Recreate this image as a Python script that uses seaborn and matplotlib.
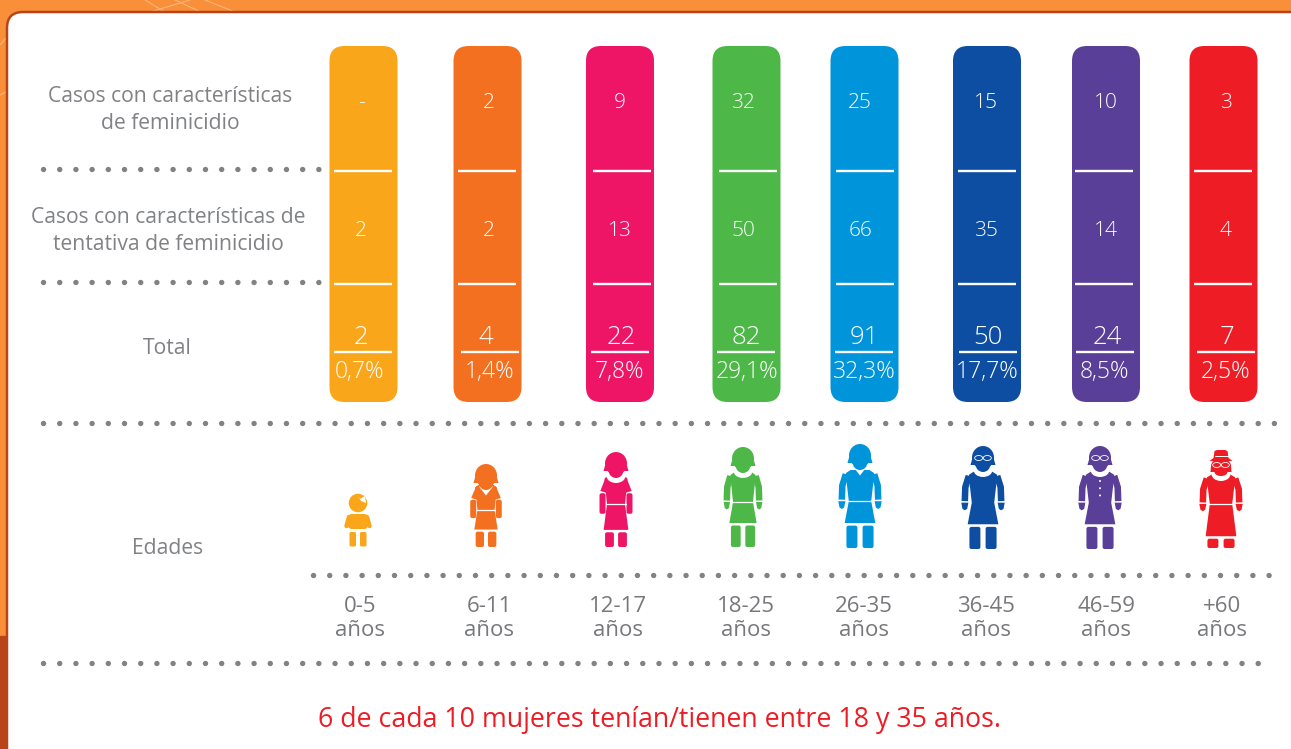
import numpy as np
import matplotlib
matplotlib.use("Agg")
import matplotlib.pyplot as plt
import seaborn as sns
from matplotlib.patches import FancyBboxPatch, Ellipse, Polygon, Rectangle

edades = ["0-5", "6-11", "12-17", "18-25", "26-35", "36-45", "46-59", "+60"]
feminicidio = ["-", 2, 9, 32, 25, 15, 10, 3]
tentativa = [2, 2, 13, 50, 66, 35, 14, 4]
totales = [2, 4, 22, 82, 91, 50, 24, 7]
porcentajes = ["0,7%", "1,4%", "7,8%", "29,1%", "32,3%", "17,7%", "8,5%", "2,5%"]
colores = ["#FAA61A", "#F47021", "#EE1566", "#4DB848", "#0095DA", "#0D4EA2", "#593F98", "#EE1C25"]

# posiciones en pixeles de la imagen
centros = [363.5, 487.5, 620, 746.5, 864.5, 987, 1106, 1223.5]
centros_num = [361, 489, 620, 743, 860, 986, 1106, 1226]
centros_total = [361, 486, 621, 746, 864, 988, 1107, 1227]
centros_pct = [360, 490, 620, 747, 864, 987, 1104, 1226]
centros_raya = [363, 487, 622, 747.5, 864.5, 986.5, 1103.5, 1223]
centros_frac = [363, 490, 620, 746, 864, 988, 1104.5, 1226]
centros_edad = [360, 489, 618, 746, 864, 986, 1106, 1222]
GRIS = "#808285"
TEXTO = "#77787B"

sns.set_theme(style="white")
plt.rcParams["font.family"] = ["Open Sans", "DejaVu Sans"]

fig = plt.figure(figsize=(12.91, 7.49), dpi=100, facecolor="#F99039")
ax = fig.add_axes([0, 0, 1, 1])
ax.set_facecolor("none")

# Fondo naranja con la banda oscura abajo a la izquierda
ax.add_patch(Rectangle((0, 636), 30, 113, color="#B8451A", zorder=0))
for xs, ys in [([175, 205], [0, 14]), ([205, 240], [0, 14]), ([150, 190], [12, 0]),
               ([145, 165], [0, 12]), ([0, 6], [45, 38]), ([0, 6], [95, 92])]:
    ax.plot(xs, ys, color="#FBB57A", lw=0.8, zorder=0)

# Panel blanco
ax.add_patch(FancyBboxPatch((21, 26), 1300, 780, boxstyle="round,pad=14,rounding_size=16",
                            fc="white", ec="#B8451A", lw=1.8, zorder=1))


def puntos(x0, x1, y):
    ax.plot([x0, x1], [y, y], color=GRIS, lw=3.9, ls=(0, (0.01, 2.98)),
            dash_capstyle="round", zorder=2)


puntos(43, 323, 169)
puntos(43, 323, 282)
puntos(43, 1276, 423)
puntos(313, 1281, 575)
puntos(43, 1265, 663)

# Columnas: barras de seaborn con las esquinas redondeadas
sns.barplot(x=centros, y=[356] * 8, bottom=46, hue=edades, hue_order=edades, palette=colores,
            native_scale=True, width=68 / 117.5, dodge=False, legend=False, saturation=1, ax=ax)
for barra in list(ax.patches):
    if barra.get_height() != 356:
        continue
    x, y, w, h = barra.get_x(), barra.get_y(), barra.get_width(), barra.get_height()
    color = barra.get_facecolor()
    barra.remove()
    r = 15
    ax.add_patch(FancyBboxPatch((x + r, y + r), w - 2 * r, h - 2 * r,
                                boxstyle=f"round,pad={r},rounding_size={r}",
                                fc=color, ec="none", zorder=3))

ax.set_xlim(0, 1291)
ax.set_ylim(749, 0)
ax.axis("off")

for i in range(8):
    ax.text(centros_num[i], 103, str(feminicidio[i]), color="white", fontsize=15, fontweight="light",
            ha="center", va="center", zorder=5)
    ax.text(centros_num[i], 231, str(tentativa[i]), color="white", fontsize=15, fontweight="light",
            ha="center", va="center", zorder=5)
    ax.text(centros_total[i], 338, str(totales[i]), color="white", fontsize=18.5, fontweight="light",
            ha="center", va="center", zorder=5)
    ax.text(centros_pct[i], 372, porcentajes[i], color="white", fontsize=16.5, fontweight="light",
            ha="center", va="center", zorder=5)
    for y in (170.5, 283.5):
        ax.plot([centros_raya[i] - 29, centros_raya[i] + 29], [y, y], color="white", lw=1.7,
                solid_capstyle="butt", zorder=5)
    ax.plot([centros_frac[i] - 29, centros_frac[i] + 29], [352, 352], color="white", lw=1.7,
            solid_capstyle="butt", zorder=5)
    ax.text(centros_edad[i], 606, edades[i], color=TEXTO, fontsize=16, ha="center", va="center")
    ax.text(centros_edad[i], 630, "años", color=TEXTO, fontsize=16, ha="center", va="center")

ax.text(170.5, 110, "Casos con características\nde feminicidio", color=GRIS, fontsize=15.2,
        ha="center", va="center", linespacing=1.42)
ax.text(168, 231, "Casos con características de\ntentativa de feminicidio", color=GRIS, fontsize=15.2,
        ha="center", va="center", linespacing=1.42)
ax.text(167, 349, "Total", color=GRIS, fontsize=15.2, ha="center", va="center")
ax.text(168, 549, "Edades", color=GRIS, fontsize=15.2, ha="center", va="center")
ax.text(660, 720, "6 de cada 10 mujeres tenían/tienen entre 18 y 35 años.", color="#ED1C24",
        fontsize=19.25, ha="center", va="center")


def bebe(cx, c):
    z = 6
    ax.add_patch(Ellipse((cx, 503), 18.5, 18.5, fc=c, ec="none", zorder=z))
    ax.add_patch(Polygon([(cx - 1, 495), (cx + 2, 499), (cx + 7, 496), (cx + 8, 503), (cx + 3, 501)],
                         fc="white", ec="none", zorder=z))
    ax.add_patch(FancyBboxPatch((cx - 6, 518), 12, 7, boxstyle="round,pad=4,rounding_size=4", fc=c, ec="none", zorder=z))
    for s in (-1, 1):
        ax.plot([cx + s * 9, cx + s * 11.5], [517, 526], color=c, lw=3.2, solid_capstyle="round", zorder=z)
        ax.add_patch(FancyBboxPatch((cx + (3 if s > 0 else -7.5), 533), 4.5, 12.5,
                                    boxstyle="round,pad=1,rounding_size=1.5", fc=c, ec="none", zorder=z))


def mujer(cx, top, bottom, c, sx=1.0, manga="larga", falda=76, cuello="redondo", gafas=False, botones=False,
          sombrero=False, cinturon=True):
    z = 6
    sy = (bottom - top) / 100
    X = lambda u: cx + u * sx
    Y = lambda v: top + v * sy

    def pol(puntos_, color=c, zo=z):
        ax.add_patch(Polygon([(X(u), Y(v)) for u, v in puntos_], fc=color, ec="none", closed=True, zorder=zo))

    # piernas
    for s in (-1, 1):
        a, b = (2.2, 11.5) if s > 0 else (-11.5, -2.2)
        ax.add_patch(FancyBboxPatch((X(a) + 2, Y(falda + 2.5) + 2), (b - a) * sx - 4, Y(100) - Y(falda + 2.5) - 4,
                                    boxstyle="round,pad=2,rounding_size=2", fc=c, ec="none", zorder=z))
    # torso y falda
    pol([(-8, 25), (8, 25), (12, 28), (11, 40), (9.5, 55), (13, falda), (-13, falda), (-9.5, 55), (-11, 40), (-12, 28)])
    if cinturon:
        ax.plot([X(-10), X(10)], [Y(55), Y(55)], color="white", lw=0.9, zorder=z + 0.1)
    for s in (-1, 1):
        if manga == "larga":
            ax.plot([X(s * 12), X(s * 15), X(s * 15.4)], [Y(29), Y(40), Y(53.5)], color=c, lw=4.7,
                    solid_capstyle="butt", solid_joinstyle="round", zorder=z)
            pol([(s * 18.4, 55), (s * 12.4, 55), (s * 13.4, 61), (s * 15.4, 62.5), (s * 17.4, 61)])
        else:
            pol([(s * 6, 25), (s * 11, 27), (s * 16.5, 41), (s * 10, 43), (s * 9, 34)])
            ax.add_patch(FancyBboxPatch((X(s * 14.2) - 1, Y(45.5)), 2, Y(64) - Y(45.5) - 1,
                                        boxstyle="round,pad=2,rounding_size=2", fc=c, ec="none", zorder=z))
    # cuello
    if cuello == "v":
        ax.add_patch(Polygon([(cx - 7, top + 22.5), (cx + 7, top + 22.5), (cx, top + 31.5)], fc="white", ec="none",
                             zorder=z + 0.1))
    else:
        ax.add_patch(Ellipse((cx, top + 24), 19, 14, fc="white", ec="none", zorder=z + 0.1))
    # cabeza y pelo
    z2 = z + 0.2
    if sombrero:
        ax.add_patch(Ellipse((cx, top + 16), 20, 15, fc=c, ec="none", zorder=z2))
        ax.add_patch(Polygon([(cx - 10, top + 16), (cx + 10, top + 16), (cx + 10.5, top + 22), (cx - 10.5, top + 22)],
                             fc=c, ec="none", zorder=z2))
        ax.add_patch(Ellipse((cx, top + 22), 13, 8, fc=c, ec="none", zorder=z2))
        ax.add_patch(Polygon([(cx - 11.5, top + 11), (cx + 11.5, top + 11), (cx + 7.5, top + 8), (cx + 6.5, top + 1),
                              (cx + 4, top), (cx - 4, top), (cx - 6.5, top + 1), (cx - 7.5, top + 8)],
                             fc=c, ec="none", zorder=z2))
        ax.plot([cx - 6.5, cx + 6.5], [top + 6, top + 6], color="white", lw=0.7, zorder=z2 + 0.1)
    else:
        ax.add_patch(Ellipse((cx, top + 11.5), 22, 23, fc=c, ec="none", zorder=z2))
        ax.add_patch(Polygon([(cx - 12.5, top + 19), (cx - 10.8, top + 13), (cx + 10.8, top + 13), (cx + 12.5, top + 19)],
                             fc=c, ec="none", zorder=z2))
        ax.add_patch(Ellipse((cx, top + 18), 15, 16, fc=c, ec="none", zorder=z2))
    if gafas:
        gy = top + (12 if not sombrero else 15)
        for s in (-1, 1):
            ax.add_patch(Ellipse((cx + s * 4.3, gy), 8, 5, fc="none", ec="white", lw=0.6, zorder=z2 + 0.1))
    if botones:
        for v in (34, 41, 48):
            ax.add_patch(Ellipse((X(0), Y(v)), 2, 2, fc="white", ec="none", zorder=z2))


bebe(358, colores[0])
mujer(486, 464, 547, colores[1], sx=0.9, manga="corta", falda=79, cuello="v")
mujer(616, 452, 547, colores[2], sx=0.95, manga="corta", falda=82)
mujer(743, 447, 547, colores[3], sx=1.05)
mujer(860, 444, 548, colores[4], sx=1.18, cuello="v")
mujer(983, 446, 549, colores[5], sx=1.18, gafas=True, cinturon=False)
mujer(1100, 446, 549, colores[6], sx=1.18, gafas=True, botones=True, cinturon=False)
mujer(1221, 450, 548, colores[7], sx=1.18, falda=88, gafas=True, sombrero=True)

fig.savefig("out.png", dpi=100, facecolor=fig.get_facecolor())
